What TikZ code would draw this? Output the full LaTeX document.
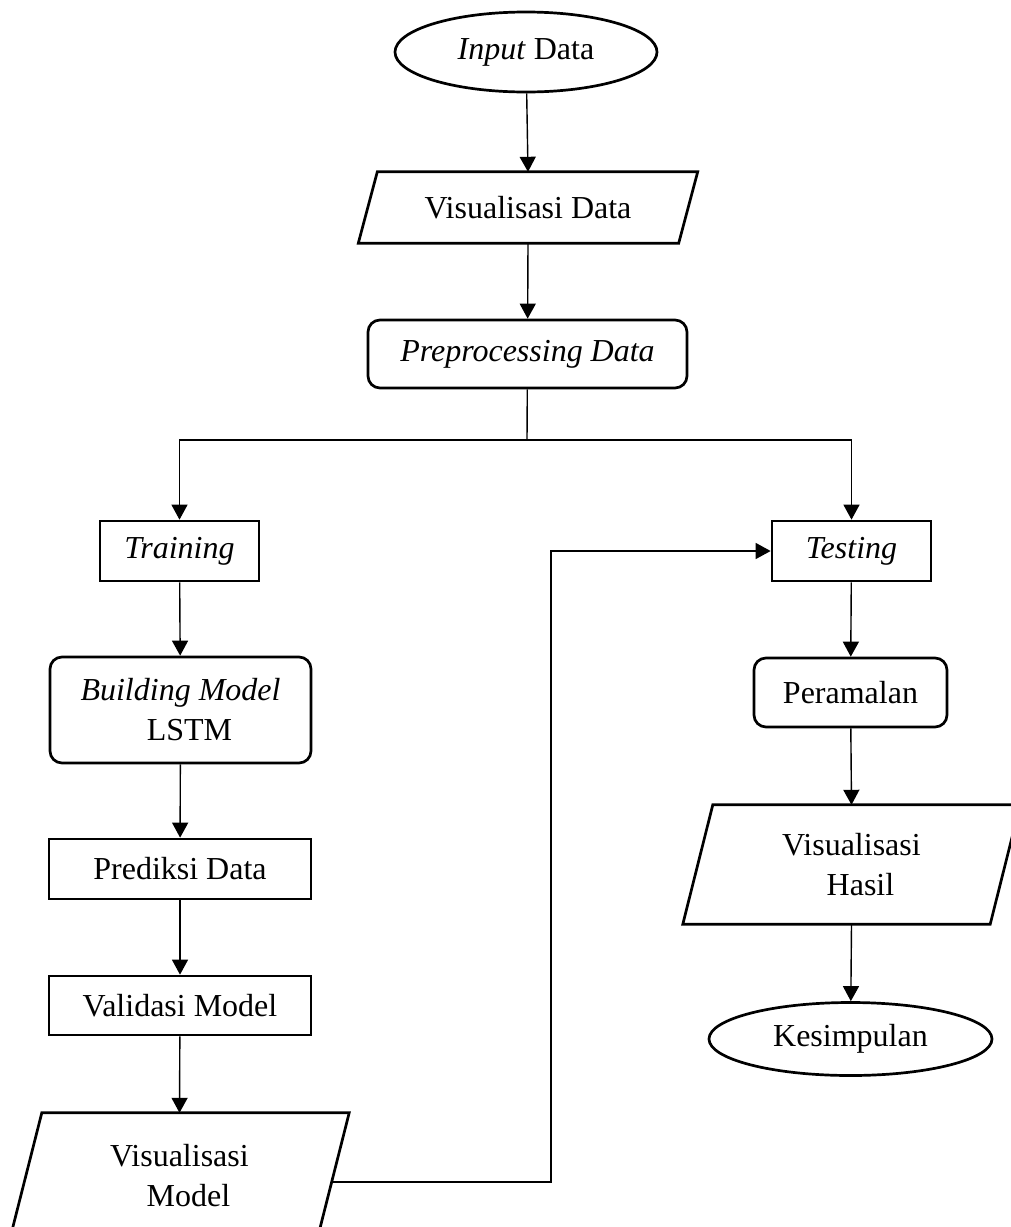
\documentclass[tikz,border=0pt]{standalone}
\usepackage{fontspec}
\setmainfont{Liberation Serif}
\usetikzlibrary{arrows.meta,shapes.geometric,calc}
\newcommand{\myfs}{\fontsize{32}{40}\selectfont}
\newcommand{\parash}[2]{\draw[shapeline] ($(#1.north west)+(#2,0)$) -- ($(#1.north east)+(#2,0)$) -- ($(#1.south east)+(-#2,0)$) -- ($(#1.south west)+(-#2,0)$) -- cycle;}
\begin{document}
\begin{tikzpicture}[x=1pt,y=-1pt,
  shapeline/.style={draw=black, line width=2.7pt, line join=miter},
  base/.style={inner sep=0pt, align=center, font=\myfs, text=black},
  box/.style={base, shapeline, rectangle},
  rbox/.style={base, shapeline, rectangle, rounded corners=12pt},
  oval/.style={base, shapeline, ellipse},
  ptext/.style={base, rectangle, draw=none},
  conn/.style={draw=black, line width=1.4pt, -{Triangle[length=15pt,width=16pt]}},
  plain/.style={draw=black, line width=1.4pt}
]
\useasboundingbox (0,0) rectangle (1011,1227);
\clip (0,0) rectangle (1011,1227);
\fill[white] (0,0) rectangle (1011,1227);

% top column
\node[oval, minimum width=262pt, minimum height=80pt] (inp) at (526,52) {\textit{Input} Data};
\node[ptext, minimum width=320pt, minimum height=71pt] (vd) at (528,207.5) {Visualisasi Data};
\parash{vd}{9.5}
\node[rbox, minimum width=319pt, minimum height=68pt] (pre) at (527.5,354) {\textit{Preprocessing Data}};

% left column
\node[box, minimum width=159pt, minimum height=60pt] (train) at (179.5,551) {\textit{Training}};
\node[rbox, minimum width=261pt, minimum height=106pt] (build) at (180.5,710) {\textit{Building Model}\\\hspace*{18pt}LSTM};
\node[box, minimum width=262pt, minimum height=60pt] (pred) at (180,869) {Prediksi Data};
\node[box, minimum width=262pt, minimum height=59pt] (val) at (180,1005.5) {Validasi Model};
\node[ptext, minimum width=307pt, minimum height=126pt] (vm) at (179.5,1176) {Visualisasi\\\hspace*{18pt}Model};
\parash{vm}{16}

% right column
\node[box, minimum width=159pt, minimum height=60pt] (test) at (851.5,551) {\textit{Testing}};
\node[rbox, minimum width=193pt, minimum height=69pt] (ram) at (850.5,692.5) {Peramalan};
\node[ptext, minimum width=307pt, minimum height=119pt] (vh) at (851.5,864.5) {Visualisasi\\\hspace*{18pt}Hasil};
\parash{vh}{15}
\node[oval, minimum width=283pt, minimum height=73pt] (kes) at (850.5,1039) {Kesimpulan};

% connectors
\coordinate (split) at (527,440);
\coordinate (vmout) at (331.5,1182);
\coordinate (bend) at (551,1182);

\draw[conn] (inp) -- (vd.north);
\draw[conn] (vd.south) -- (pre);
\draw[plain] (pre) -- (split);
\draw[conn] (split) -| (train);
\draw[conn] (split) -| (test);
\draw[conn] (train) -- (build);
\draw[conn] (build) -- (pred);
\draw[conn] (pred) -- (val);
\draw[conn] (val) -- (vm.north);
\draw[conn] (vmout) -- (bend) |- (test);
\draw[conn] (test) -- (ram);
\draw[conn] (ram) -- (vh.north);
\draw[conn] (vh.south) -- (kes);
\end{tikzpicture}
\end{document}
